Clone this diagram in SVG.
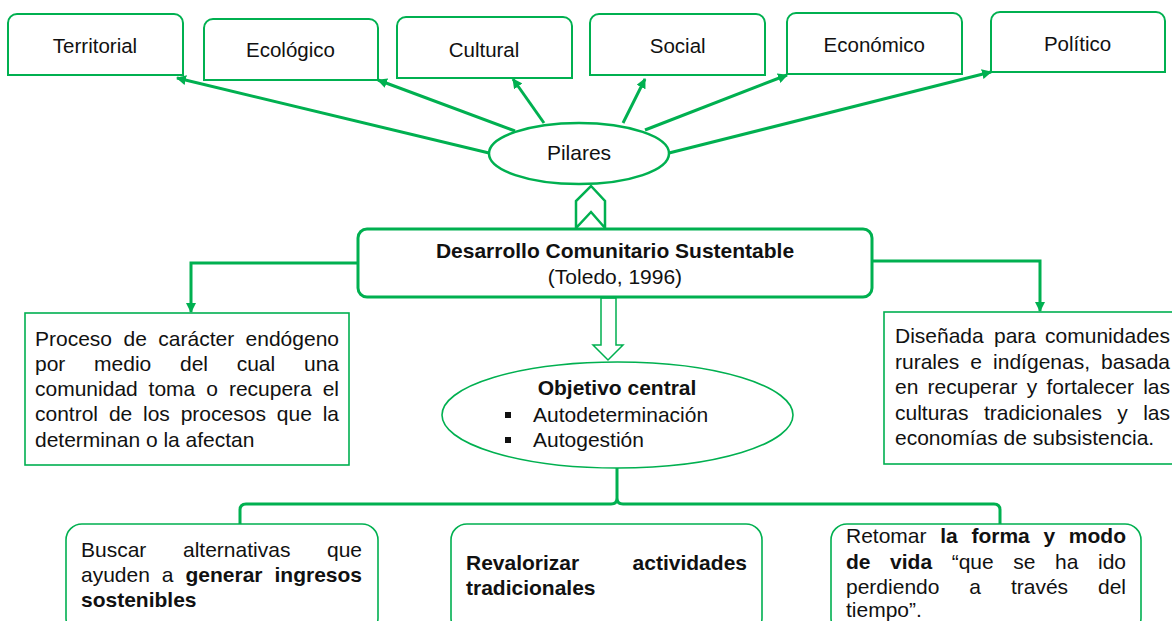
<svg xmlns="http://www.w3.org/2000/svg" width="1172" height="621" viewBox="0 0 1172 621">
<defs>
<style>
text{font-family:"Liberation Sans",Arial,sans-serif;fill:#111;font-size:21px}
.b{font-weight:bold}
.top{font-size:20.5px;text-anchor:middle}
.mid{text-anchor:middle}
.end{text-anchor:end}
.tb{fill:#fff;stroke:#00B050;stroke-width:2}
.thin{fill:#fff;stroke:#00B050;stroke-width:1.6}
.con{fill:none;stroke:#00B050;stroke-width:3}
</style>
<marker id="ah" viewBox="0 0 10 10" refX="9" refY="5" markerWidth="10" markerHeight="10" markerUnits="userSpaceOnUse" orient="auto">
<path d="M0,0 L10,5 L0,10 Z" fill="#00B050"/>
</marker>
</defs>
<rect width="1172" height="621" fill="#fff"/>

<g id="territorial"><path class="tb" d="M8,75 V23 A9,9 0 0 1 17,14 H174 A9,9 0 0 1 183,23 V75 Z"/><text class="top" x="95" y="53">Territorial</text></g>
<g id="ecologico"><path class="tb" d="M204,80 V28 A9,9 0 0 1 213,19 H369 A9,9 0 0 1 378,28 V80 Z"/><text class="top" x="290.5" y="57">Ecológico</text></g>
<g id="cultural"><path class="tb" d="M397,78 V26 A9,9 0 0 1 406,17 H563 A9,9 0 0 1 572,26 V78 Z"/><text class="top" x="484" y="57">Cultural</text></g>
<g id="social"><path class="tb" d="M590,75 V23 A9,9 0 0 1 599,14 H756 A9,9 0 0 1 765,23 V75 Z"/><text class="top" x="677.7" y="53">Social</text></g>
<g id="economico"><path class="tb" d="M787,74 V22 A9,9 0 0 1 796,13 H953 A9,9 0 0 1 962,22 V74 Z"/><text class="top" x="874.3" y="52">Económico</text></g>
<g id="politico"><path class="tb" d="M991,72 V21 A9,9 0 0 1 1000,12 H1156 A9,9 0 0 1 1165,21 V72 Z"/><text class="top" x="1077.5" y="51">Político</text></g>

<g id="connectors">
<line class="con" x1="489" y1="153" x2="177" y2="78" marker-end="url(#ah)"/>
<line class="con" x1="515" y1="131" x2="378" y2="80" marker-end="url(#ah)"/>
<line class="con" x1="544" y1="123" x2="513" y2="79" marker-end="url(#ah)"/>
<line class="con" x1="623" y1="123" x2="645" y2="79" marker-end="url(#ah)"/>
<line class="con" x1="645" y1="130" x2="787" y2="75" marker-end="url(#ah)"/>
<line class="con" x1="669" y1="153" x2="991" y2="72" marker-end="url(#ah)"/>
<polygon points="576,228 576,201 591,186 605,201 605,228 591,212" fill="#fff" stroke="#00B050" stroke-width="2.5" stroke-linejoin="miter"/>
<polygon points="601,298 616,298 616,345 623,345 608,360 593,345 601,345" fill="#fff" stroke="#00B050" stroke-width="1.5"/>
<path class="con" d="M358,263 H191 V312" marker-end="url(#ah)"/>
<path class="con" d="M872,261 H1040 V311" marker-end="url(#ah)"/>
<path class="con" d="M240,524 V510 Q240,504 246,504 H611 Q617,504 617,498 V468 M617,498 Q617,504 623,504 H994 Q1000,504 1000,510 V524"/>
</g>

<g id="pilares"><ellipse cx="579" cy="153.5" rx="90" ry="30.5" fill="#fff" stroke="#00B050" stroke-width="2.5"/><text class="mid" x="579" y="160">Pilares</text></g>

<g id="desarrollo"><rect x="358" y="229" width="514" height="68" rx="9" fill="#fff" stroke="#00B050" stroke-width="3"/>
<text class="mid b" x="615" y="258">Desarrollo Comunitario Sustentable</text>
<text class="mid" x="615" y="284">(Toledo, 1996)</text></g>

<g id="proceso"><rect class="thin" x="25" y="313" width="324" height="152"/>
<text y="345.5"><tspan x="35">Proceso</tspan><tspan x="123.5">de</tspan><tspan x="158.3">carácter</tspan></text><text class="end" x="339" y="345.5">endógeno</text>
<text y="370.8"><tspan x="35">por</tspan><tspan x="94.1">medio</tspan><tspan x="180">del</tspan><tspan x="236.7">cual</tspan></text><text class="end" x="339" y="370.8">una</text>
<text y="396"><tspan x="35">comunidad</tspan><tspan x="148.6">toma</tspan><tspan x="206.3">o</tspan><tspan x="228.9">recupera</tspan></text><text class="end" x="339" y="396">el</text>
<text y="421.3"><tspan x="35">control</tspan><tspan x="108.9">de</tspan><tspan x="143">los</tspan><tspan x="180.7">procesos</tspan><tspan x="276.8">que</tspan></text><text class="end" x="339" y="421.3">la</text>
<text x="35" y="446.6">determinan o la afectan</text></g>

<g id="disenada"><rect class="thin" x="884" y="312" width="305" height="152"/>
<text y="343"><tspan x="895">Diseñada</tspan><tspan x="994">para</tspan></text><text class="end" x="1170" y="343">comunidades</text>
<text y="368.5"><tspan x="895">rurales</tspan><tspan x="970.3">e</tspan><tspan x="993.1">indígenas,</tspan></text><text class="end" x="1170" y="368.5">basada</text>
<text y="394"><tspan x="895">en</tspan><tspan x="927.6">recuperar</tspan><tspan x="1026.7">y</tspan><tspan x="1046.4">fortalecer</tspan></text><text class="end" x="1170" y="394">las</text>
<text y="419.5"><tspan x="895">culturas</tspan><tspan x="984">tradicionales</tspan><tspan x="1117.3">y</tspan></text><text class="end" x="1170" y="419.5">las</text>
<text x="895" y="445">economías de subsistencia.</text></g>

<g id="objetivo"><ellipse cx="617.5" cy="415" rx="175.5" ry="53" fill="#fff" stroke="#00B050" stroke-width="1.6"/>
<text class="mid b" x="617" y="395">Objetivo central</text>
<rect x="505" y="412" width="6" height="6" fill="#111"/><text x="533" y="422">Autodeterminación</text>
<rect x="505" y="437" width="6" height="6" fill="#111"/><text x="533" y="447">Autogestión</text></g>

<g id="buscar"><rect class="thin" x="66" y="524" width="312" height="110" rx="16"/>
<text y="556.7"><tspan x="81">Buscar</tspan><tspan x="183">alternativas</tspan></text><text class="end" x="362" y="556.7">que</text>
<text y="581.7"><tspan x="81">ayuden</tspan><tspan x="161.8">a</tspan><tspan class="b" x="185.5">generar</tspan></text><text class="end b" x="362" y="581.7">ingresos</text>
<text class="b" x="81" y="606.7">sostenibles</text></g>

<g id="revalorizar"><rect class="thin" x="451" y="524" width="311" height="110" rx="16"/>
<text class="b" x="466" y="570">Revalorizar</text><text class="b end" x="747" y="570">actividades</text>
<text class="b" x="466" y="595">tradicionales</text></g>

<g id="retomar"><rect class="thin" x="831" y="524" width="310" height="110" rx="16"/>
<text y="543"><tspan x="846">Retomar</tspan><tspan class="b" x="940.2">la</tspan><tspan class="b" x="971.4">forma</tspan><tspan class="b" x="1043.5">y</tspan></text><text class="b end" x="1126" y="543">modo</text>
<text y="568.5"><tspan class="b" x="846">de</tspan><tspan class="b" x="890.1">vida</tspan><tspan x="951.7">“que</tspan><tspan x="1013.3">se</tspan><tspan x="1055">ha</tspan></text><text class="end" x="1126" y="568.5">ido</text>
<text y="594"><tspan x="846">perdiendo</tspan><tspan x="969.3">a</tspan><tspan x="1010.9">través</tspan></text><text class="end" x="1126" y="594">del</text>
<text x="846" y="617">tiempo”.</text></g>
</svg>
